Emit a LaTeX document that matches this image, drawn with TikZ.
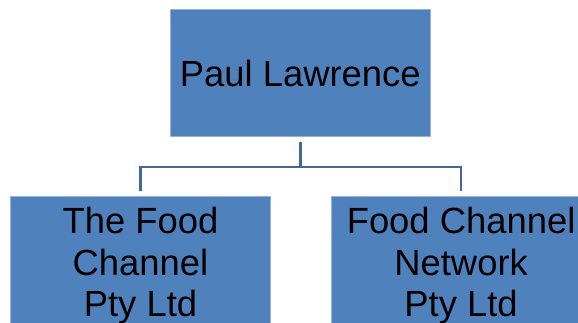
\documentclass[tikz,border=0pt]{standalone}
\usepackage{fontspec}
\setmainfont{Liberation Sans}
\usetikzlibrary{positioning}
\definecolor{Box-Blue}{RGB}{79,129,189}
\definecolor{Line-Blue}{RGB}{65,105,155}
\newcommand{\toplead}{\rule{0pt}{37pt}}
\begin{document}
\begin{tikzpicture}
    \tikzset{ org/.style={fill=Box-Blue, draw=Box-Blue!60!white, line width=0.6pt, text=black, inner sep=0pt, minimum height=127pt, minimum width=259.5pt, align=center, font=\fontsize{36.4}{41.7}\selectfont} }
    \tikzset{ lnk/.style={draw=Line-Blue, line width=2.6pt} }

    \useasboundingbox (0pt, 0pt) rectangle (578pt, -322pt);
    \clip (0pt, 0pt) rectangle (578pt, -322pt);

    \node[org] (paul) at (300.3pt, -73.2pt)  {Paul Lawrence};
    \node[org] (tfc)  at (140.5pt, -260.4pt) {\toplead The Food\\Channel\\Pty Ltd};
    \node[org, right=60.5pt of tfc] (fcn)    {\toplead Food Channel\\Network\\Pty Ltd};

    \draw[lnk] ([yshift=-5pt]paul.south) -- ++(0,-25pt) -| ([yshift=5pt]tfc.north);
    \draw[lnk] ([yshift=-5pt]paul.south) -- ++(0,-25pt) -| ([yshift=5pt]fcn.north);
  \end{tikzpicture}
\end{document}
